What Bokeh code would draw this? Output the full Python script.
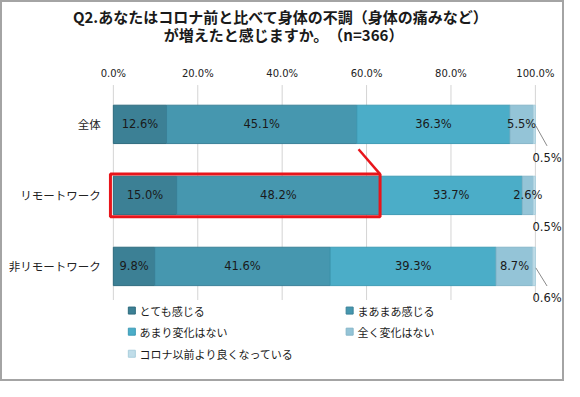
import numpy as np
from bokeh.plotting import figure
from bokeh.core.properties import value
from bokeh.embed import file_html
from bokeh.resources import INLINE

# ---- data ----
groups = ["全体", "リモートワーク", "非リモートワーク"]
series = ["とても感じる", "まあまあ感じる", "あまり変化はない", "全く変化はない", "コロナ以前より良くなっている"]
v_strong = [12.6, 15.0, 9.8]
v_some = [45.1, 48.2, 41.6]
v_little = [36.3, 33.7, 39.3]
v_none = [5.5, 2.6, 8.7]
v_better = [0.5, 0.5, 0.6]
x_ticks = [0, 20, 40, 60, 80, 100]
x_tick_labels = ["0.0%", "20.0%", "40.0%", "60.0%", "80.0%", "100.0%"]
title_lines = ["Q2.あなたはコロナ前と比べて身体の不調（身体の痛みなど）", "が増えたと感じますか。　（n=366）"]

colors = ["#3c8095", "#4697af", "#4badc8", "#94c4d7", "#c0dde9"]
edges = ["#2e6b7e", "#3a8198", "#3e9bb5", "#86b6c9", "#aacfdd"]

FONT = "Noto Sans CJK JP"
NUMFONT = "DejaVu Sans"
W, H = 564, 381

# layout helpers: reference-pixel positions -> data units
X0, KX = 114.0, 4.34     # px of 0% and px per percent
Y3, KY = 127.0, 74.0     # px of first category centre and px per category
def rx(px):
    return (px - X0) / KX
def ry(py):
    return 3 - (py - Y3) / KY

p = figure(width=W, height=H, output_backend="svg", toolbar_location=None,
           x_range=(rx(0), rx(580)), y_range=(ry(397), ry(0)),
           min_border=0)
p.axis.visible = False
p.grid.visible = False
p.outline_line_color = None
p.background_fill_color = "white"
p.border_fill_color = "white"
p.styles = {"border": "2px solid #a4a4a4", "box-sizing": "border-box"}

ypos = [3, 2, 1]

# title
p.text(x=[rx(286), rx(289)], y=[ry(15), ry(33)], text=title_lines,
       text_align="center", text_baseline="middle",
       text_font=value(FONT), text_font_size="15px", text_font_style="bold", text_color="#1a1a1a")

# x tick labels (top)
p.text(x=x_ticks, y=[ry(74)] * len(x_ticks), text=x_tick_labels,
       text_align="center", text_baseline="middle",
       text_font=value(NUMFONT), text_font_size="10px", text_color="#222222")

# category labels
p.text(x=[rx(101)] * 3, y=ypos, text=groups, text_align="right", text_baseline="middle",
       text_font=value(FONT), text_font_size="11.5px", text_color="#222222")

# gridlines
p.segment(x0=x_ticks, x1=x_ticks, y0=[ry(86)] * len(x_ticks), y1=[ry(310)] * len(x_ticks),
          line_color="#d4d4d4", line_width=1)

# stacked bars
vals = np.array([v_strong, v_some, v_little, v_none, v_better])
cum = np.cumsum(vals, axis=0)
left = np.vstack([np.zeros(3), cum[:-1]])
bar_h = 40 / KY
for i in range(5):
    p.hbar(y=ypos, left=left[i], right=cum[i], height=bar_h,
           fill_color=colors[i], line_color=edges[i], line_width=1)

# inside labels
for i in range(4):
    mids = (left[i] + cum[i]) / 2
    p.text(x=mids, y=ypos, text=[f"{v:.1f}%" for v in vals[i]],
           text_align="center", text_baseline="middle",
           text_font=value(NUMFONT), text_font_size="11.5px", text_color="#1a1a1a")

# outside labels for the smallest segment
lab_y = [ry(162), ry(234), ry(308)]
p.text(x=[rx(560)] * 3, y=lab_y, text=[f"{v:.1f}%" for v in v_better],
       text_align="center", text_baseline="middle",
       text_font=value(NUMFONT), text_font_size="11.5px", text_color="#1a1a1a")
lead_idx = [0, 2]
p.segment(x0=[cum[4][j] + 0.1 for j in lead_idx], y0=[ypos[j] - 0.02 for j in lead_idx],
          x1=[rx(560)] * 2, y1=[lab_y[j] + 0.17 for j in lead_idx],
          line_color="#8a8a8a", line_width=1)

# red highlight
p.quad(left=[rx(111)], right=[cum[1][1]], bottom=[2 - 0.30], top=[2 + 0.30],
       fill_color=None, line_color="#e8151b", line_width=3)
p.segment(x0=[cum[1][0] + 0.4], y0=[3 - 0.35], x1=[cum[1][1]], y1=[2 + 0.30],
          line_color="#e8151b", line_width=2.5)

# legend
leg_x = [rx(133), rx(357), rx(133), rx(357), rx(133)]
leg_y = [ry(321), ry(321), ry(343), ry(343), ry(366)]
p.scatter(x=leg_x, y=leg_y, marker="square", size=7,
          fill_color=colors, line_color=edges, line_width=1)
p.text(x=[x + 8 / KX for x in leg_x], y=leg_y, text=series,
       text_align="left", text_baseline="middle",
       text_font=value(FONT), text_font_size="11px", text_color="#1a1a1a")

open("out.html", "w").write(file_html(p, INLINE))
